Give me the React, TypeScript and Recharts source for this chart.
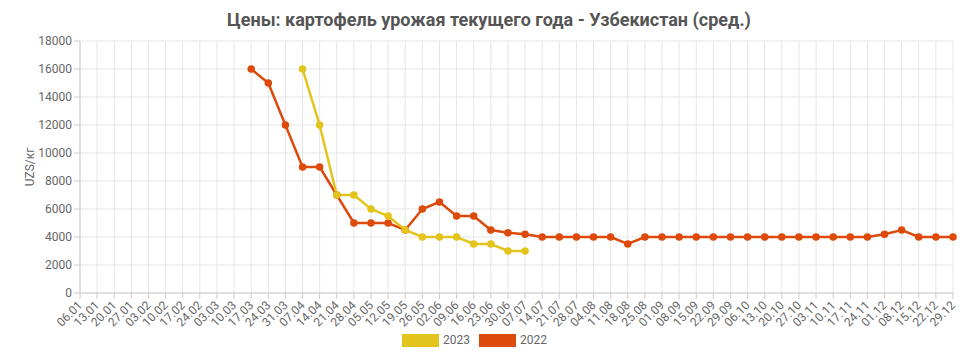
import { LineChart, Line, XAxis, YAxis, CartesianGrid, Legend } from 'recharts'

const weeks = [
  '06.01', '13.01', '20.01', '27.01', '03.02', '10.02', '17.02', '24.02', '03.03', '10.03',
  '17.03', '24.03', '31.03', '07.04', '14.04', '21.04', '28.04', '05.05', '12.05', '19.05',
  '26.05', '02.06', '09.06', '16.06', '23.06', '30.06', '07.07', '14.07', '21.07', '28.07',
  '04.08', '11.08', '18.08', '25.08', '01.09', '08.09', '15.09', '22.09', '29.09', '06.10',
  '13.10', '20.10', '27.10', '03.11', '10.11', '17.11', '24.11', '01.12', '08.12', '15.12',
  '22.12', '29.12',
]

// null = no price that week
const prices2023 = [
  null, null, null, null, null, null, null, null, null, null,
  null, null, null, 16000, 12000, 7000, 7000, 6000, 5500, 4500,
  4000, 4000, 4000, 3500, 3500, 3000, 3000,
]

const prices2022 = [
  null, null, null, null, null, null, null, null, null, null,
  16000, 15000, 12000, 9000, 9000, 7000, 5000, 5000, 5000, 4500,
  6000, 6500, 5500, 5500, 4500, 4300, 4200, 4000, 4000, 4000,
  4000, 4000, 3500, 4000, 4000, 4000, 4000, 4000, 4000, 4000,
  4000, 4000, 4000, 4000, 4000, 4000, 4000, 4200, 4500, 4000,
  4000, 4000,
]

const yTicks = [0, 2000, 4000, 6000, 8000, 10000, 12000, 14000, 16000, 18000]

const YELLOW = '#e3c41c'
const ORANGE = '#dc4a0c'

const data = weeks.map((w, i) => ({
  week: w,
  y2023: prices2023[i] ?? null,
  y2022: prices2022[i] ?? null,
}))

const XTick = ({ x, y, payload }: any) => (
  <text
    x={x + 3}
    y={y + 5}
    transform={`rotate(-45, ${x + 3}, ${y + 5})`}
    textAnchor="end"
    fill="#666"
    fontSize={12}
  >
    {payload.value}
  </text>
)

const LegendBox = () => {
  const items = [
    { name: '2023', color: YELLOW },
    { name: '2022', color: ORANGE },
  ]
  return (
    <div style={{ display: 'flex', justifyContent: 'center', gap: 5, fontSize: 12, color: '#666' }}>
      {items.map((it) => (
        <div key={it.name} style={{ display: 'flex', alignItems: 'center', marginRight: 4 }}>
          <span style={{ width: 37, height: 13, background: it.color, display: 'inline-block', marginRight: 4 }} />
          {it.name}
        </div>
      ))}
    </div>
  )
}

const App = () => {
  return (
    <div style={{ position: 'absolute', left: 0, top: 0, width: 978, height: 362, fontFamily: 'Roboto, sans-serif', background: '#fff' }}>
      <div
        style={{
          position: 'absolute',
          top: 9,
          left: 0,
          width: 978,
          textAlign: 'center',
          fontSize: 18,
          fontWeight: 700,
          color: '#555',
        }}
      >
        Цены: картофель урожая текущего года - Узбекистан (сред.)
      </div>
      <LineChart
        width={978}
        height={362}
        data={data}
        margin={{ top: 41, right: 25, left: 0, bottom: 0 }}
      >
        <CartesianGrid stroke="#e6e6e6" />
        <XAxis
          dataKey="week"
          interval={0}
          height={45}
          tick={<XTick />}
          tickLine={{ stroke: '#ccc' }}
          axisLine={{ stroke: '#ccc' }}
        />
        <YAxis
          width={80}
          domain={[0, 18000]}
          ticks={yTicks}
          interval={0}
          tick={{ fill: '#666', fontSize: 12 }}
          tickLine={{ stroke: '#ccc' }}
          axisLine={{ stroke: '#ccc' }}
          label={{ value: 'UZS/кг', angle: -90, position: 'insideLeft', offset: 30, fill: '#666', fontSize: 12, style: { textAnchor: 'middle' } }}
        />
        <Legend verticalAlign="bottom" height={24} wrapperStyle={{ bottom: 5 }} content={<LegendBox />} />
        <Line
          dataKey="y2022"
          stroke={ORANGE}
          strokeWidth={2.5}
          dot={{ r: 2.5, fill: ORANGE, stroke: ORANGE }}
          isAnimationActive={false}
        />
        <Line
          dataKey="y2023"
          stroke={YELLOW}
          strokeWidth={2.5}
          dot={{ r: 2.5, fill: YELLOW, stroke: YELLOW }}
          isAnimationActive={false}
        />
      </LineChart>
    </div>
  )
}

export default App
